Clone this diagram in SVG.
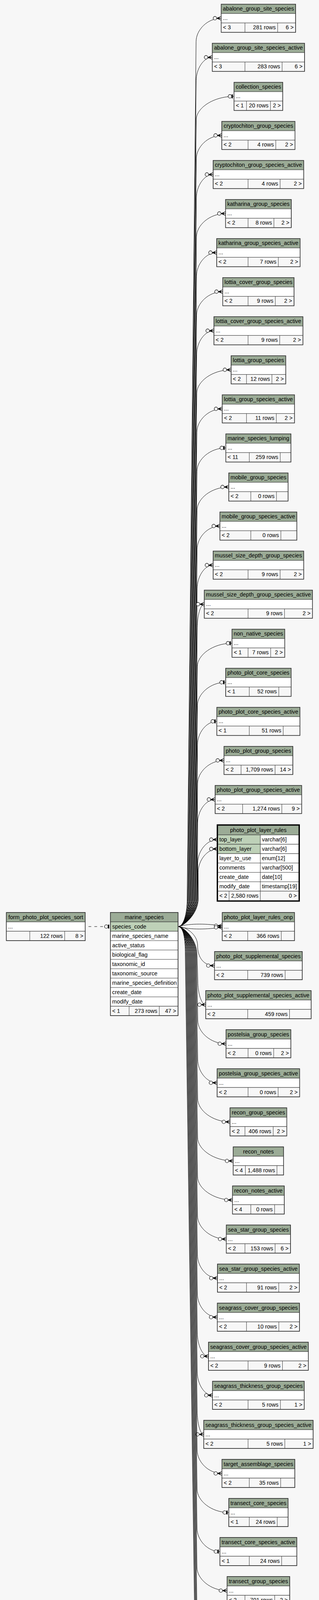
<svg xmlns="http://www.w3.org/2000/svg" width="817" height="4663" viewBox="0 0 817 4663">
<defs>
<style>
text{font-family:"Liberation Sans",Arial,Helvetica,sans-serif;font-size:14.3px;fill:#000}
.c{text-anchor:middle}.r{text-anchor:end}
.hd{fill:#9bab96;stroke:#333;stroke-width:1}
.rw{fill:#fff;stroke:#333;stroke-width:1}
.key{fill:#bed1b8;stroke:#333;stroke-width:1}
.ft{fill:#f7f7f7;stroke:#333;stroke-width:1}
.ln{fill:none;stroke:#333;stroke-width:1}
.ob{fill:none;stroke:#333;stroke-width:1.6}
.obk{fill:none;stroke:#000;stroke-width:3}
.e{fill:none;stroke:#000;stroke-width:1;marker-end:url(#crow)}
.e1{fill:none;stroke:#000;stroke-width:1;marker-end:url(#one)}
.dash{stroke-dasharray:7 8}
</style>
<marker id="crow" markerUnits="userSpaceOnUse" orient="0" refX="0" refY="0" markerWidth="24" markerHeight="14" viewBox="-22 -7 24 14" overflow="visible">
<path d="M-11.5,0L0,-5M-11.5,0L0,0M-11.5,0L0,5" fill="none" stroke="#000" stroke-width="1.2"/>
<path d="M-11.5,0L-3,-3.6L-5.5,0L-3,3.6Z" fill="#000"/>
<circle cx="-16" cy="0" r="4.5" fill="#f7f7f7" stroke="#000" stroke-width="1.2"/>
</marker>
<marker id="one" markerUnits="userSpaceOnUse" orient="0" refX="0" refY="0" markerWidth="24" markerHeight="14" viewBox="-22 -7 24 14" overflow="visible">
<circle cx="-10.5" cy="0" r="4.5" fill="#f7f7f7" stroke="#000" stroke-width="1.2"/>
<path d="M-4.5,-5V5" stroke="#000" stroke-width="3"/>
</marker>
</defs>
<rect width="817" height="4663" fill="#f7f7f7"/>
<g id="connectors">
<path class="e1 dash" d="M226.7,2372H282.7"/>
<path class="e" d="M456,2372C470,2372 479.3,2340 479.3,2300L502.2,106.7C502.2,76.7 531.1,46.7 566.5,46.7"/>
<path class="e" d="M456,2372C470,2372 480.6,2340 480.6,2300L502.4,206.7C502.4,176.7 520.9,146.7 543.65,146.7"/>
<path class="e1" d="M456,2372C470,2372 481.9,2340 481.9,2300L502.6,306.7C502.6,276.7 546.2,246.7 599.4,246.7"/>
<path class="e" d="M456,2372C470,2372 483.2,2340 483.2,2300L502.8,406.7C502.8,376.7 532.2,346.7 568.1,346.7"/>
<path class="e" d="M456,2372C470,2372 484.5,2340 484.5,2300L503,506.7C503,476.7 522.3,446.7 545.85,446.7"/>
<path class="e" d="M456,2372C470,2372 485.8,2340 485.8,2300L503.2,606.7C503.2,576.7 536.7,546.7 577.6,546.7"/>
<path class="e" d="M456,2372C470,2372 487.1,2340 487.1,2300L503.4,706.7C503.4,676.7 526.6,646.7 555,646.7"/>
<path class="e" d="M456,2372C470,2372 488.4,2340 488.4,2300L503.6,806.7C503.6,776.7 533.7,746.7 570.45,746.7"/>
<path class="e" d="M456,2372C470,2372 489.7,2340 489.7,2300L503.8,906.7C503.8,876.7 523.6,846.7 547.85,846.7"/>
<path class="e" d="M456,2372C470,2372 491,2340 491,2300L504,1006.7C504,976.7 543.5,946.7 591.85,946.7"/>
<path class="e" d="M456,2372C470,2372 492.3,2340 492.3,2300L504.2,1106.7C504.2,1076.7 533.5,1046.7 569.25,1046.7"/>
<path class="e1" d="M456,2372C470,2372 493.6,2340 493.6,2300L504.4,1206.7C504.4,1176.7 537.7,1146.7 578.4,1146.7"/>
<path class="e" d="M456,2372C470,2372 494.9,2340 494.9,2300L504.6,1306.7C504.6,1276.7 541.2,1246.7 585.9,1246.7"/>
<path class="e" d="M456,2372C470,2372 496.2,2340 496.2,2300L504.8,1406.7C504.8,1376.7 531.1,1346.7 563.3,1346.7"/>
<path class="e" d="M456,2372C470,2372 497.5,2340 497.5,2300L505,1506.7C505,1476.7 523.4,1446.7 545.85,1446.7"/>
<path class="e" d="M456,2372C470,2372 498.8,2340 498.8,2300L505.2,1606.7C505.2,1576.7 513.3,1546.7 523.25,1546.7"/>
<path class="e1" d="M456,2372C470,2372 500.1,2340 500.1,2300L505.4,1706.7C505.4,1676.7 545.4,1646.7 594.25,1646.7"/>
<path class="e1" d="M456,2372C470,2372 501.4,2340 501.4,2300L505.6,1806.7C505.6,1776.7 538.2,1746.7 578,1746.7"/>
<path class="e1" d="M456,2372C470,2372 502.7,2340 502.7,2300L505.8,1906.7C505.8,1876.7 528.1,1846.7 555.35,1846.7"/>
<path class="e" d="M456,2372C470,2372 504,2340 504,2300L506,2006.7C506,1976.7 536.4,1946.7 573.6,1946.7"/>
<path class="e" d="M456,2372C470,2372 505.3,2340 505.3,2300L506.2,2106.7C506.2,2076.7 526.4,2046.7 551,2046.7"/>
<path class="e" d="M456,2372C470,2372 506.6,2340 506.6,2300L506.4,2209.3C506.4,2179.3 529.2,2149.3 557,2149.3"/>
<path class="e" d="M456,2372C470,2372 507.9,2340 507.9,2300L507.5,2233.3C507.5,2203.3 529.8,2173.3 557,2173.3"/>
<path class="e" d="M456,2372C490,2363 530,2365 569.25,2370"/>
<path class="e" d="M456,2372C490,2381 530,2379 569.25,2374"/>
<path class="e" d="M456,2372C476,2372 506,2392 506,2420C506,2452 522,2472 549.45,2472"/>
<path class="e" d="M456,2372C470,2372 504.5,2404 504.5,2444L506.7,2512C506.7,2542 515.7,2572 526.8,2572"/>
<path class="e" d="M456,2372C470,2372 503,2404 503,2444L506.55,2612C506.55,2642 539.1,2672 578.8,2672"/>
<path class="e" d="M456,2372C470,2372 501.5,2404 501.5,2444L506.4,2712C506.4,2742 528.8,2772 556.15,2772"/>
<path class="e" d="M456,2372C470,2372 500,2404 500,2444L506.25,2812C506.25,2842 543.5,2872 589.1,2872"/>
<path class="e" d="M456,2372C470,2372 498.5,2404 498.5,2444L506.1,2912C506.1,2942 547.1,2972 597.3,2972"/>
<path class="e" d="M456,2372C470,2372 497,2404 497,2444L505.95,3012C505.95,3042 546.2,3072 595.45,3072"/>
<path class="e" d="M456,2372C470,2372 495.5,2404 495.5,2444L505.8,3112C505.8,3142 539,3172 579.55,3172"/>
<path class="e" d="M456,2372C470,2372 494,2404 494,2444L505.65,3212C505.65,3242 528.7,3272 556.95,3272"/>
<path class="e" d="M456,2372C470,2372 492.5,2404 492.5,2444L505.5,3312C505.5,3342 528.5,3372 556.55,3372"/>
<path class="e" d="M456,2372C470,2372 491,2404 491,2444L505.35,3412C505.35,3442 518.2,3472 533.95,3472"/>
<path class="e" d="M456,2372C470,2372 489.5,2404 489.5,2444L505.2,3512C505.2,3542 522.8,3572 544.3,3572"/>
<path class="e" d="M456,2372C470,2372 488,2404 488,2444L505.05,3612C505.05,3642 512.5,3672 521.7,3672"/>
<path class="e" d="M456,2372C470,2372 486.5,2404 486.5,2444L504.9,3712C504.9,3742 533.5,3772 568.45,3772"/>
<path class="e1" d="M456,2372C470,2372 485,2404 485,2444L504.75,3812C504.75,3842 541.3,3872 585.9,3872"/>
<path class="e1" d="M456,2372C470,2372 483.5,2404 483.5,2444L504.6,3912C504.6,3942 531,3972 563.3,3972"/>
<path class="e" d="M456,2372C470,2372 482,2404 482,2444L504.45,4012C504.45,4042 539.2,4072 581.55,4072"/>
<path class="e" d="M456,2372C470,2372 480.5,2404 480.5,2444L504.3,4112C504.3,4142 528.9,4172 558.95,4172"/>
<path class="e" d="M456,2372C470,2372 479,2404 479,2444L504.15,4212C504.15,4242 528.1,4272 557.35,4272"/>
<path class="e" d="M456,2372C470,2372 477.5,2404 477.5,2444L504,4312C504,4342 517.8,4372 534.75,4372"/>
<path class="e" d="M456,2372C470,2372 476,2404 476,2444L503.85,4412C503.85,4442 541.5,4472 587.5,4472"/>
<path class="e" d="M456,2372C470,2372 474.5,2404 474.5,2444L503.7,4512C503.7,4542 531.3,4572 564.9,4572"/>
</g>
<g id="form_photo_plot_species_sort" transform="translate(16.3,2336)"><rect class="hd" width="202" height="24"/><rect class="rw" y="24" width="202" height="24"/><rect class="ft" y="48" width="202" height="24"/><path class="ln" d="M60,48v24M149.4,48v24"/><rect class="ob" width="202" height="72"/><text class="c" x="101" y="16.5">form_photo_plot_species_sort</text><text x="4.5" y="40.5">...</text><text class="r" x="144.4" y="64.5">122 rows</text><text class="r" x="197" y="64.5">8 &gt;</text></g>
<g id="marine_species" transform="translate(282.7,2336)"><rect class="hd" width="173.3" height="24"/><rect class="key" y="24" width="173.3" height="24"/><rect class="rw" y="48" width="173.3" height="192"/><path class="ln" d="M0,72h173.3M0,96h173.3M0,120h173.3M0,144h173.3M0,168h173.3M0,192h173.3M0,216h173.3"/><rect class="ft" y="240" width="173.3" height="24"/><path class="ln" d="M48,240v24M125.3,240v24"/><rect class="ob" width="173.3" height="264"/><text class="c" x="86.65" y="16.5">marine_species</text><text x="4.6" y="40.5">species_code</text><text x="4.6" y="64.5">marine_species_name</text><text x="4.6" y="88.5">active_status</text><text x="4.6" y="112.5">biological_flag</text><text x="4.6" y="136.5">taxonomic_id</text><text x="4.6" y="160.5">taxonomic_source</text><text x="4.6" y="184.5">marine_species_definition</text><text x="4.6" y="208.5">create_date</text><text x="4.6" y="232.5">modify_date</text><text x="4.6" y="256.5">&lt; 1</text><text class="r" x="120.3" y="256.5">273 rows</text><text class="r" x="168.3" y="256.5">47 &gt;</text></g>
<g id="abalone_group_site_species" transform="translate(566.5,10.7)"><rect class="hd" width="190.6" height="24"/><rect class="rw" y="24" width="190.6" height="24"/><rect class="ft" y="48" width="190.6" height="24"/><path class="ln" d="M60.85,48v24M144.55,48v24"/><rect class="ob" width="190.6" height="72"/><text class="c" x="95.3" y="16.5">abalone_group_site_species</text><text x="4.5" y="40.5">...</text><text x="4.5" y="64.5">&lt; 3</text><text class="r" x="139.55" y="64.5">281 rows</text><text class="r" x="185.6" y="64.5">6 &gt;</text></g>
<g id="abalone_group_site_species_active" transform="translate(543.65,110.7)"><rect class="hd" width="236.3" height="24"/><rect class="rw" y="24" width="236.3" height="24"/><rect class="ft" y="48" width="236.3" height="24"/><path class="ln" d="M83.7,48v24M178.85,48v24"/><rect class="ob" width="236.3" height="72"/><text class="c" x="118.15" y="16.5">abalone_group_site_species_active</text><text x="4.5" y="40.5">...</text><text x="4.5" y="64.5">&lt; 3</text><text class="r" x="173.85" y="64.5">283 rows</text><text class="r" x="231.3" y="64.5">6 &gt;</text></g>
<g id="collection_species" transform="translate(599.4,210.7)"><rect class="hd" width="124.8" height="24"/><rect class="rw" y="24" width="124.8" height="24"/><rect class="ft" y="48" width="124.8" height="24"/><path class="ln" d="M31.9,48v24M93.25,48v24"/><rect class="ob" width="124.8" height="72"/><text class="c" x="62.4" y="16.5">collection_species</text><text x="4.5" y="40.5">...</text><text x="4.5" y="64.5">&lt; 1</text><text class="r" x="88.25" y="64.5">20 rows</text><text class="r" x="119.8" y="64.5">2 &gt;</text></g>
<g id="cryptochiton_group_species" transform="translate(568.1,310.7)"><rect class="hd" width="187.4" height="24"/><rect class="rw" y="24" width="187.4" height="24"/><rect class="ft" y="48" width="187.4" height="24"/><path class="ln" d="M67.2,48v24M138.2,48v24"/><rect class="ob" width="187.4" height="72"/><text class="c" x="93.7" y="16.5">cryptochiton_group_species</text><text x="4.5" y="40.5">...</text><text x="4.5" y="64.5">&lt; 2</text><text class="r" x="133.2" y="64.5">4 rows</text><text class="r" x="182.4" y="64.5">2 &gt;</text></g>
<g id="cryptochiton_group_species_active" transform="translate(545.85,410.7)"><rect class="hd" width="231.9" height="24"/><rect class="rw" y="24" width="231.9" height="24"/><rect class="ft" y="48" width="231.9" height="24"/><path class="ln" d="M89.45,48v24M171.55,48v24"/><rect class="ob" width="231.9" height="72"/><text class="c" x="115.95" y="16.5">cryptochiton_group_species_active</text><text x="4.5" y="40.5">...</text><text x="4.5" y="64.5">&lt; 2</text><text class="r" x="166.55" y="64.5">4 rows</text><text class="r" x="226.9" y="64.5">2 &gt;</text></g>
<g id="katharina_group_species" transform="translate(577.6,510.7)"><rect class="hd" width="168.4" height="24"/><rect class="rw" y="24" width="168.4" height="24"/><rect class="ft" y="48" width="168.4" height="24"/><path class="ln" d="M57.7,48v24M123.95,48v24"/><rect class="ob" width="168.4" height="72"/><text class="c" x="84.2" y="16.5">katharina_group_species</text><text x="4.5" y="40.5">...</text><text x="4.5" y="64.5">&lt; 2</text><text class="r" x="118.95" y="64.5">8 rows</text><text class="r" x="163.4" y="64.5">2 &gt;</text></g>
<g id="katharina_group_species_active" transform="translate(555,610.7)"><rect class="hd" width="213.6" height="24"/><rect class="rw" y="24" width="213.6" height="24"/><rect class="ft" y="48" width="213.6" height="24"/><path class="ln" d="M80.3,48v24M157.85,48v24"/><rect class="ob" width="213.6" height="72"/><text class="c" x="106.8" y="16.5">katharina_group_species_active</text><text x="4.5" y="40.5">...</text><text x="4.5" y="64.5">&lt; 2</text><text class="r" x="152.85" y="64.5">7 rows</text><text class="r" x="208.6" y="64.5">2 &gt;</text></g>
<g id="lottia_cover_group_species" transform="translate(570.45,710.7)"><rect class="hd" width="182.7" height="24"/><rect class="rw" y="24" width="182.7" height="24"/><rect class="ft" y="48" width="182.7" height="24"/><path class="ln" d="M64.85,48v24M134.65,48v24"/><rect class="ob" width="182.7" height="72"/><text class="c" x="91.35" y="16.5">lottia_cover_group_species</text><text x="4.5" y="40.5">...</text><text x="4.5" y="64.5">&lt; 2</text><text class="r" x="129.65" y="64.5">9 rows</text><text class="r" x="177.7" y="64.5">2 &gt;</text></g>
<g id="lottia_cover_group_species_active" transform="translate(547.85,810.7)"><rect class="hd" width="227.9" height="24"/><rect class="rw" y="24" width="227.9" height="24"/><rect class="ft" y="48" width="227.9" height="24"/><path class="ln" d="M87.45,48v24M168.55,48v24"/><rect class="ob" width="227.9" height="72"/><text class="c" x="113.95" y="16.5">lottia_cover_group_species_active</text><text x="4.5" y="40.5">...</text><text x="4.5" y="64.5">&lt; 2</text><text class="r" x="163.55" y="64.5">9 rows</text><text class="r" x="222.9" y="64.5">2 &gt;</text></g>
<g id="lottia_group_species" transform="translate(591.85,910.7)"><rect class="hd" width="139.9" height="24"/><rect class="rw" y="24" width="139.9" height="24"/><rect class="ft" y="48" width="139.9" height="24"/><path class="ln" d="M39.45,48v24M104.55,48v24"/><rect class="ob" width="139.9" height="72"/><text class="c" x="69.95" y="16.5">lottia_group_species</text><text x="4.5" y="40.5">...</text><text x="4.5" y="64.5">&lt; 2</text><text class="r" x="99.55" y="64.5">12 rows</text><text class="r" x="134.9" y="64.5">2 &gt;</text></g>
<g id="lottia_group_species_active" transform="translate(569.25,1010.7)"><rect class="hd" width="185.1" height="24"/><rect class="rw" y="24" width="185.1" height="24"/><rect class="ft" y="48" width="185.1" height="24"/><path class="ln" d="M62.05,48v24M138.45,48v24"/><rect class="ob" width="185.1" height="72"/><text class="c" x="92.55" y="16.5">lottia_group_species_active</text><text x="4.5" y="40.5">...</text><text x="4.5" y="64.5">&lt; 2</text><text class="r" x="133.45" y="64.5">11 rows</text><text class="r" x="180.1" y="64.5">2 &gt;</text></g>
<g id="marine_species_lumping" transform="translate(578.4,1110.7)"><rect class="hd" width="166.8" height="24"/><rect class="rw" y="24" width="166.8" height="24"/><rect class="ft" y="48" width="166.8" height="24"/><path class="ln" d="M60.05,48v24M139.35,48v24"/><rect class="ob" width="166.8" height="72"/><text class="c" x="83.4" y="16.5">marine_species_lumping</text><text x="4.5" y="40.5">...</text><text x="4.5" y="64.5">&lt; 11</text><text class="r" x="134.35" y="64.5">259 rows</text></g>
<g id="mobile_group_species" transform="translate(585.9,1210.7)"><rect class="hd" width="151.8" height="24"/><rect class="rw" y="24" width="151.8" height="24"/><rect class="ft" y="48" width="151.8" height="24"/><path class="ln" d="M56.5,48v24M122.15,48v24"/><rect class="ob" width="151.8" height="72"/><text class="c" x="75.9" y="16.5">mobile_group_species</text><text x="4.5" y="40.5">...</text><text x="4.5" y="64.5">&lt; 2</text><text class="r" x="117.15" y="64.5">0 rows</text></g>
<g id="mobile_group_species_active" transform="translate(563.3,1310.7)"><rect class="hd" width="197" height="24"/><rect class="rw" y="24" width="197" height="24"/><rect class="ft" y="48" width="197" height="24"/><path class="ln" d="M79.1,48v24M156.05,48v24"/><rect class="ob" width="197" height="72"/><text class="c" x="98.5" y="16.5">mobile_group_species_active</text><text x="4.5" y="40.5">...</text><text x="4.5" y="64.5">&lt; 2</text><text class="r" x="151.05" y="64.5">0 rows</text></g>
<g id="mussel_size_depth_group_species" transform="translate(545.85,1410.7)"><rect class="hd" width="231.9" height="24"/><rect class="rw" y="24" width="231.9" height="24"/><rect class="ft" y="48" width="231.9" height="24"/><path class="ln" d="M89.45,48v24M171.55,48v24"/><rect class="ob" width="231.9" height="72"/><text class="c" x="115.95" y="16.5">mussel_size_depth_group_species</text><text x="4.5" y="40.5">...</text><text x="4.5" y="64.5">&lt; 2</text><text class="r" x="166.55" y="64.5">9 rows</text><text class="r" x="226.9" y="64.5">2 &gt;</text></g>
<g id="mussel_size_depth_group_species_active" transform="translate(523.25,1510.7)"><rect class="hd" width="277.1" height="24"/><rect class="rw" y="24" width="277.1" height="24"/><rect class="ft" y="48" width="277.1" height="24"/><path class="ln" d="M112.05,48v24M205.45,48v24"/><rect class="ob" width="277.1" height="72"/><text class="c" x="138.55" y="16.5">mussel_size_depth_group_species_active</text><text x="4.5" y="40.5">...</text><text x="4.5" y="64.5">&lt; 2</text><text class="r" x="200.45" y="64.5">9 rows</text><text class="r" x="272.1" y="64.5">2 &gt;</text></g>
<g id="non_native_species" transform="translate(594.25,1610.7)"><rect class="hd" width="135.1" height="24"/><rect class="rw" y="24" width="135.1" height="24"/><rect class="ft" y="48" width="135.1" height="24"/><path class="ln" d="M41.05,48v24M98.95,48v24"/><rect class="ob" width="135.1" height="72"/><text class="c" x="67.55" y="16.5">non_native_species</text><text x="4.5" y="40.5">...</text><text x="4.5" y="64.5">&lt; 1</text><text class="r" x="93.95" y="64.5">7 rows</text><text class="r" x="130.1" y="64.5">2 &gt;</text></g>
<g id="photo_plot_core_species" transform="translate(578,1710.7)"><rect class="hd" width="167.6" height="24"/><rect class="rw" y="24" width="167.6" height="24"/><rect class="ft" y="48" width="167.6" height="24"/><path class="ln" d="M60.4,48v24M136,48v24"/><rect class="ob" width="167.6" height="72"/><text class="c" x="83.8" y="16.5">photo_plot_core_species</text><text x="4.5" y="40.5">...</text><text x="4.5" y="64.5">&lt; 1</text><text class="r" x="131" y="64.5">52 rows</text></g>
<g id="photo_plot_core_species_active" transform="translate(555.35,1810.7)"><rect class="hd" width="212.9" height="24"/><rect class="rw" y="24" width="212.9" height="24"/><rect class="ft" y="48" width="212.9" height="24"/><path class="ln" d="M83.05,48v24M169.95,48v24"/><rect class="ob" width="212.9" height="72"/><text class="c" x="106.45" y="16.5">photo_plot_core_species_active</text><text x="4.5" y="40.5">...</text><text x="4.5" y="64.5">&lt; 1</text><text class="r" x="164.95" y="64.5">51 rows</text></g>
<g id="photo_plot_group_species" transform="translate(573.6,1910.7)"><rect class="hd" width="176.4" height="24"/><rect class="rw" y="24" width="176.4" height="24"/><rect class="ft" y="48" width="176.4" height="24"/><path class="ln" d="M43.8,48v24M130.9,48v24"/><rect class="ob" width="176.4" height="72"/><text class="c" x="88.2" y="16.5">photo_plot_group_species</text><text x="4.5" y="40.5">...</text><text x="4.5" y="64.5">&lt; 2</text><text class="r" x="125.9" y="64.5">1,709 rows</text><text class="r" x="171.4" y="64.5">14 &gt;</text></g>
<g id="photo_plot_group_species_active" transform="translate(551,2010.7)"><rect class="hd" width="221.6" height="24"/><rect class="rw" y="24" width="221.6" height="24"/><rect class="ft" y="48" width="221.6" height="24"/><path class="ln" d="M70.4,48v24M170.8,48v24"/><rect class="ob" width="221.6" height="72"/><text class="c" x="110.8" y="16.5">photo_plot_group_species_active</text><text x="4.5" y="40.5">...</text><text x="4.5" y="64.5">&lt; 2</text><text class="r" x="165.8" y="64.5">1,274 rows</text><text class="r" x="216.6" y="64.5">9 &gt;</text></g>
<g id="photo_plot_layer_rules" transform="translate(558,2113.3)"><rect class="hd" width="207" height="24"/><rect class="key" y="24" width="108.7" height="24"/><rect class="rw" x="108.7" y="24" width="98.3" height="24"/><rect class="key" y="48" width="108.7" height="24"/><rect class="rw" x="108.7" y="48" width="98.3" height="24"/><rect class="rw" y="72" width="207" height="96"/><path class="ln" d="M0,96h207M0,120h207M0,144h207M108.7,72v96"/><rect class="ft" y="168" width="207" height="24"/><path class="ln" d="M28.7,168v24M108.7,168v24"/><rect class="obk" x="-1.5" y="-1.5" width="210" height="195"/><text class="c" x="103.5" y="16.5">photo_plot_layer_rules</text><text x="3.7" y="40.5">top_layer</text><text x="112.7" y="40.5">varchar[6]</text><text x="3.7" y="64.5">bottom_layer</text><text x="112.7" y="64.5">varchar[6]</text><text x="3.7" y="88.5">layer_to_use</text><text x="112.7" y="88.5">enum[12]</text><text x="3.7" y="112.5">comments</text><text x="112.7" y="112.5">varchar[500]</text><text x="3.7" y="136.5">create_date</text><text x="112.7" y="136.5">date[10]</text><text x="3.7" y="160.5">modify_date</text><text x="112.7" y="160.5">timestamp[19]</text><text x="3.7" y="184.5">&lt; 2</text><text class="r" x="104" y="184.5">2,580 rows</text><text class="r" x="202" y="184.5">0 &gt;</text></g>
<g id="photo_plot_layer_rules_onp" transform="translate(569.25,2336)"><rect class="hd" width="185.1" height="24"/><rect class="rw" y="24" width="185.1" height="24"/><rect class="ft" y="48" width="185.1" height="24"/><path class="ln" d="M65.2,48v24M151.1,48v24"/><rect class="ob" width="185.1" height="72"/><text class="c" x="92.55" y="16.5">photo_plot_layer_rules_onp</text><text x="4.5" y="40.5">...</text><text x="4.5" y="64.5">&lt; 2</text><text class="r" x="146.1" y="64.5">366 rows</text></g>
<g id="photo_plot_supplemental_species" transform="translate(549.45,2436)"><rect class="hd" width="224.7" height="24"/><rect class="rw" y="24" width="224.7" height="24"/><rect class="ft" y="48" width="224.7" height="24"/><path class="ln" d="M85,48v24M180.8,48v24"/><rect class="ob" width="224.7" height="72"/><text class="c" x="112.35" y="16.5">photo_plot_supplemental_species</text><text x="4.5" y="40.5">...</text><text x="4.5" y="64.5">&lt; 2</text><text class="r" x="175.8" y="64.5">739 rows</text></g>
<g id="photo_plot_supplemental_species_active" transform="translate(526.8,2536)"><rect class="hd" width="270" height="24"/><rect class="rw" y="24" width="270" height="24"/><rect class="ft" y="48" width="270" height="24"/><path class="ln" d="M107.65,48v24M214.75,48v24"/><rect class="ob" width="270" height="72"/><text class="c" x="135" y="16.5">photo_plot_supplemental_species_active</text><text x="4.5" y="40.5">...</text><text x="4.5" y="64.5">&lt; 2</text><text class="r" x="209.75" y="64.5">459 rows</text></g>
<g id="postelsia_group_species" transform="translate(578.8,2636)"><rect class="hd" width="166" height="24"/><rect class="rw" y="24" width="166" height="24"/><rect class="ft" y="48" width="166" height="24"/><path class="ln" d="M56.5,48v24M122.15,48v24"/><rect class="ob" width="166" height="72"/><text class="c" x="83" y="16.5">postelsia_group_species</text><text x="4.5" y="40.5">...</text><text x="4.5" y="64.5">&lt; 2</text><text class="r" x="117.15" y="64.5">0 rows</text><text class="r" x="161" y="64.5">2 &gt;</text></g>
<g id="postelsia_group_species_active" transform="translate(556.15,2736)"><rect class="hd" width="211.3" height="24"/><rect class="rw" y="24" width="211.3" height="24"/><rect class="ft" y="48" width="211.3" height="24"/><path class="ln" d="M79.15,48v24M156.15,48v24"/><rect class="ob" width="211.3" height="72"/><text class="c" x="105.65" y="16.5">postelsia_group_species_active</text><text x="4.5" y="40.5">...</text><text x="4.5" y="64.5">&lt; 2</text><text class="r" x="151.15" y="64.5">0 rows</text><text class="r" x="206.3" y="64.5">2 &gt;</text></g>
<g id="recon_group_species" transform="translate(589.1,2836)"><rect class="hd" width="145.4" height="24"/><rect class="rw" y="24" width="145.4" height="24"/><rect class="ft" y="48" width="145.4" height="24"/><path class="ln" d="M38.25,48v24M110.65,48v24"/><rect class="ob" width="145.4" height="72"/><text class="c" x="72.7" y="16.5">recon_group_species</text><text x="4.5" y="40.5">...</text><text x="4.5" y="64.5">&lt; 2</text><text class="r" x="105.65" y="64.5">406 rows</text><text class="r" x="140.4" y="64.5">2 &gt;</text></g>
<g id="recon_notes" transform="translate(597.3,2936)"><rect class="hd" width="129" height="24"/><rect class="rw" y="24" width="129" height="24"/><rect class="ft" y="48" width="129" height="24"/><path class="ln" d="M31.2,48v24M112,48v24"/><rect class="ob" width="129" height="72"/><text class="c" x="64.5" y="16.5">recon_notes</text><text x="4.5" y="40.5">...</text><text x="4.5" y="64.5">&lt; 4</text><text class="r" x="107" y="64.5">1,488 rows</text></g>
<g id="recon_notes_active" transform="translate(595.45,3036)"><rect class="hd" width="132.7" height="24"/><rect class="rw" y="24" width="132.7" height="24"/><rect class="ft" y="48" width="132.7" height="24"/><path class="ln" d="M46.95,48v24M107.85,48v24"/><rect class="ob" width="132.7" height="72"/><text class="c" x="66.35" y="16.5">recon_notes_active</text><text x="4.5" y="40.5">...</text><text x="4.5" y="64.5">&lt; 4</text><text class="r" x="102.85" y="64.5">0 rows</text></g>
<g id="sea_star_group_species" transform="translate(579.55,3136)"><rect class="hd" width="164.5" height="24"/><rect class="rw" y="24" width="164.5" height="24"/><rect class="ft" y="48" width="164.5" height="24"/><path class="ln" d="M47.8,48v24M125,48v24"/><rect class="ob" width="164.5" height="72"/><text class="c" x="82.25" y="16.5">sea_star_group_species</text><text x="4.5" y="40.5">...</text><text x="4.5" y="64.5">&lt; 2</text><text class="r" x="120" y="64.5">153 rows</text><text class="r" x="159.5" y="64.5">6 &gt;</text></g>
<g id="sea_star_group_species_active" transform="translate(556.95,3236)"><rect class="hd" width="209.7" height="24"/><rect class="rw" y="24" width="209.7" height="24"/><rect class="ft" y="48" width="209.7" height="24"/><path class="ln" d="M74.35,48v24M156.95,48v24"/><rect class="ob" width="209.7" height="72"/><text class="c" x="104.85" y="16.5">sea_star_group_species_active</text><text x="4.5" y="40.5">...</text><text x="4.5" y="64.5">&lt; 2</text><text class="r" x="151.95" y="64.5">91 rows</text><text class="r" x="204.7" y="64.5">2 &gt;</text></g>
<g id="seagrass_cover_group_species" transform="translate(556.55,3336)"><rect class="hd" width="210.5" height="24"/><rect class="rw" y="24" width="210.5" height="24"/><rect class="ft" y="48" width="210.5" height="24"/><path class="ln" d="M74.75,48v24M157.55,48v24"/><rect class="ob" width="210.5" height="72"/><text class="c" x="105.25" y="16.5">seagrass_cover_group_species</text><text x="4.5" y="40.5">...</text><text x="4.5" y="64.5">&lt; 2</text><text class="r" x="152.55" y="64.5">10 rows</text><text class="r" x="205.5" y="64.5">2 &gt;</text></g>
<g id="seagrass_cover_group_species_active" transform="translate(533.95,3436)"><rect class="hd" width="255.7" height="24"/><rect class="rw" y="24" width="255.7" height="24"/><rect class="ft" y="48" width="255.7" height="24"/><path class="ln" d="M101.35,48v24M189.45,48v24"/><rect class="ob" width="255.7" height="72"/><text class="c" x="127.85" y="16.5">seagrass_cover_group_species_active</text><text x="4.5" y="40.5">...</text><text x="4.5" y="64.5">&lt; 2</text><text class="r" x="184.45" y="64.5">9 rows</text><text class="r" x="250.7" y="64.5">2 &gt;</text></g>
<g id="seagrass_thickness_group_species" transform="translate(544.3,3536)"><rect class="hd" width="235" height="24"/><rect class="rw" y="24" width="235" height="24"/><rect class="ft" y="48" width="235" height="24"/><path class="ln" d="M91,48v24M173.9,48v24"/><rect class="ob" width="235" height="72"/><text class="c" x="117.5" y="16.5">seagrass_thickness_group_species</text><text x="4.5" y="40.5">...</text><text x="4.5" y="64.5">&lt; 2</text><text class="r" x="168.9" y="64.5">5 rows</text><text class="r" x="230" y="64.5">1 &gt;</text></g>
<g id="seagrass_thickness_group_species_active" transform="translate(521.7,3636)"><rect class="hd" width="280.2" height="24"/><rect class="rw" y="24" width="280.2" height="24"/><rect class="ft" y="48" width="280.2" height="24"/><path class="ln" d="M113.6,48v24M207.8,48v24"/><rect class="ob" width="280.2" height="72"/><text class="c" x="140.1" y="16.5">seagrass_thickness_group_species_active</text><text x="4.5" y="40.5">...</text><text x="4.5" y="64.5">&lt; 2</text><text class="r" x="202.8" y="64.5">5 rows</text><text class="r" x="275.2" y="64.5">1 &gt;</text></g>
<g id="target_assemblage_species" transform="translate(568.45,3736)"><rect class="hd" width="186.7" height="24"/><rect class="rw" y="24" width="186.7" height="24"/><rect class="ft" y="48" width="186.7" height="24"/><path class="ln" d="M69.95,48v24M150.35,48v24"/><rect class="ob" width="186.7" height="72"/><text class="c" x="93.35" y="16.5">target_assemblage_species</text><text x="4.5" y="40.5">...</text><text x="4.5" y="64.5">&lt; 2</text><text class="r" x="145.35" y="64.5">35 rows</text></g>
<g id="transect_core_species" transform="translate(585.9,3836)"><rect class="hd" width="151.8" height="24"/><rect class="rw" y="24" width="151.8" height="24"/><rect class="ft" y="48" width="151.8" height="24"/><path class="ln" d="M52.5,48v24M124.15,48v24"/><rect class="ob" width="151.8" height="72"/><text class="c" x="75.9" y="16.5">transect_core_species</text><text x="4.5" y="40.5">...</text><text x="4.5" y="64.5">&lt; 1</text><text class="r" x="119.15" y="64.5">24 rows</text></g>
<g id="transect_core_species_active" transform="translate(563.3,3936)"><rect class="hd" width="197" height="24"/><rect class="rw" y="24" width="197" height="24"/><rect class="ft" y="48" width="197" height="24"/><path class="ln" d="M75.1,48v24M158.05,48v24"/><rect class="ob" width="197" height="72"/><text class="c" x="98.5" y="16.5">transect_core_species_active</text><text x="4.5" y="40.5">...</text><text x="4.5" y="64.5">&lt; 1</text><text class="r" x="153.05" y="64.5">24 rows</text></g>
<g id="transect_group_species" transform="translate(581.55,4036)"><rect class="hd" width="160.5" height="24"/><rect class="rw" y="24" width="160.5" height="24"/><rect class="ft" y="48" width="160.5" height="24"/><path class="ln" d="M45.8,48v24M122,48v24"/><rect class="ob" width="160.5" height="72"/><text class="c" x="80.25" y="16.5">transect_group_species</text><text x="4.5" y="40.5">...</text><text x="4.5" y="64.5">&lt; 2</text><text class="r" x="117" y="64.5">701 rows</text><text class="r" x="155.5" y="64.5">2 &gt;</text></g>
<g id="transect_group_species_active" transform="translate(558.95,4136)"><rect class="hd" width="205.7" height="24"/><rect class="rw" y="24" width="205.7" height="24"/><rect class="ft" y="48" width="205.7" height="24"/><path class="ln" d="M68.4,48v24M155.9,48v24"/><rect class="ob" width="205.7" height="72"/><text class="c" x="102.85" y="16.5">transect_group_species_active</text><text x="4.5" y="40.5">...</text><text x="4.5" y="64.5">&lt; 3</text><text class="r" x="150.9" y="64.5">356 rows</text><text class="r" x="200.7" y="64.5">2 &gt;</text></g>
<g id="transect_supplemental_species" transform="translate(557.35,4236)"><rect class="hd" width="208.9" height="24"/><rect class="rw" y="24" width="208.9" height="24"/><rect class="ft" y="48" width="208.9" height="24"/><path class="ln" d="M77.1,48v24M168.95,48v24"/><rect class="ob" width="208.9" height="72"/><text class="c" x="104.45" y="16.5">transect_supplemental_species</text><text x="4.5" y="40.5">...</text><text x="4.5" y="64.5">&lt; 2</text><text class="r" x="163.95" y="64.5">285 rows</text></g>
<g id="transect_supplemental_species_active" transform="translate(534.75,4336)"><rect class="hd" width="254.1" height="24"/><rect class="rw" y="24" width="254.1" height="24"/><rect class="ft" y="48" width="254.1" height="24"/><path class="ln" d="M99.7,48v24M202.85,48v24"/><rect class="ob" width="254.1" height="72"/><text class="c" x="127.05" y="16.5">transect_supplemental_species_active</text><text x="4.5" y="40.5">...</text><text x="4.5" y="64.5">&lt; 2</text><text class="r" x="197.85" y="64.5">116 rows</text></g>
<g id="urchin_group_species" transform="translate(587.5,4436)"><rect class="hd" width="148.6" height="24"/><rect class="rw" y="24" width="148.6" height="24"/><rect class="ft" y="48" width="148.6" height="24"/><path class="ln" d="M43.8,48v24M111.1,48v24"/><rect class="ob" width="148.6" height="72"/><text class="c" x="74.3" y="16.5">urchin_group_species</text><text x="4.5" y="40.5">...</text><text x="4.5" y="64.5">&lt; 2</text><text class="r" x="106.1" y="64.5">27 rows</text><text class="r" x="143.6" y="64.5">2 &gt;</text></g>
<g id="urchin_group_species_active" transform="translate(564.9,4536)"><rect class="hd" width="193.8" height="24"/><rect class="rw" y="24" width="193.8" height="24"/><rect class="ft" y="48" width="193.8" height="24"/><path class="ln" d="M66.4,48v24M145,48v24"/><rect class="ob" width="193.8" height="72"/><text class="c" x="96.9" y="16.5">urchin_group_species_active</text><text x="4.5" y="40.5">...</text><text x="4.5" y="64.5">&lt; 2</text><text class="r" x="140" y="64.5">27 rows</text><text class="r" x="188.8" y="64.5">2 &gt;</text></g>
<text x="16.7" y="4647">Generated by SchemaSpy</text>
</svg>
